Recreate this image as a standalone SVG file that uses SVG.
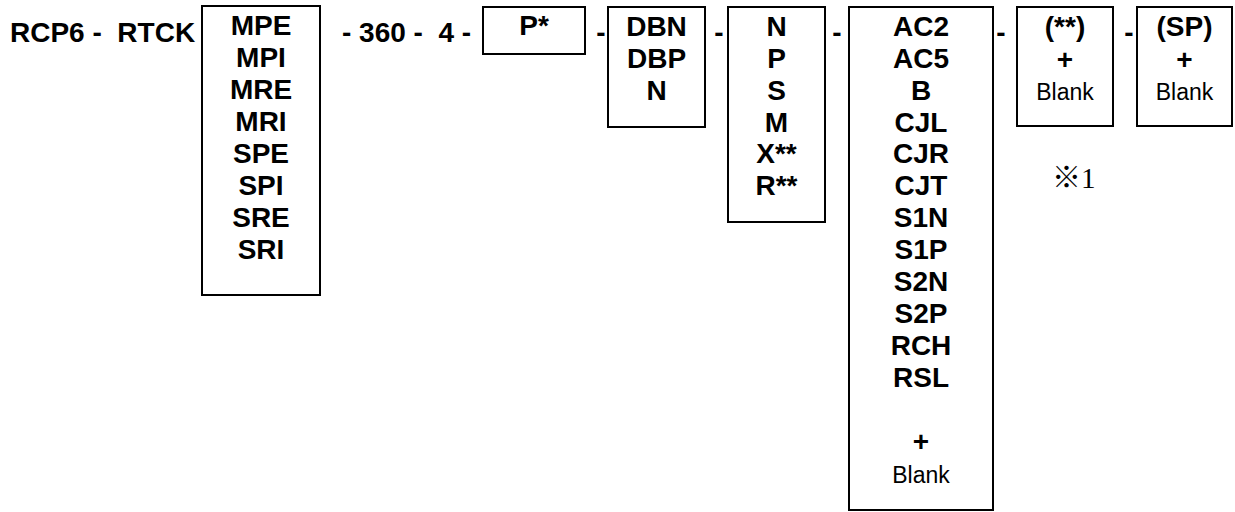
<svg xmlns="http://www.w3.org/2000/svg" width="1235" height="512" viewBox="0 0 1235 512">
<style>
  .bx { fill: #ffffff; stroke: #000000; stroke-width: 2; }
  .b { font-family: "Liberation Sans", Arial, sans-serif; font-weight: bold; font-size: 28px; fill: #000000; }
  .c { text-anchor: middle; }
  .r { font-family: "Liberation Sans", Arial, sans-serif; font-weight: normal; font-size: 23px; fill: #000000; text-anchor: middle; }
  .note { font-family: "Liberation Serif", "Noto Sans CJK JP", serif; font-size: 29px; fill: #000000; }
</style>
<rect width="1235" height="512" fill="#ffffff"/>
<g id="prefix">
  <text class="b" x="10" y="42" xml:space="preserve">RCP6 -  RTCK</text>
</g>
<g id="box-type">
  <rect class="bx" x="202" y="6" width="118" height="289"/>
  <text class="b c" x="261" y="35">MPE</text>
  <text class="b c" x="261" y="67">MPI</text>
  <text class="b c" x="261" y="99">MRE</text>
  <text class="b c" x="261" y="131">MRI</text>
  <text class="b c" x="261" y="163">SPE</text>
  <text class="b c" x="261" y="195">SPI</text>
  <text class="b c" x="261" y="227">SRE</text>
  <text class="b c" x="261" y="259">SRI</text>
</g>
<g id="middle">
  <text class="b" x="342" y="42" xml:space="preserve">- 360 -  4 -</text>
</g>
<g id="box-p">
  <rect class="bx" x="483" y="7" width="102" height="47"/>
  <text class="b c" x="534" y="35">P*</text>
</g>
<g id="box-db">
  <rect class="bx" x="608" y="7" width="97" height="120"/>
  <text class="b c" x="656.5" y="36">DBN</text>
  <text class="b c" x="656.5" y="68">DBP</text>
  <text class="b c" x="656.5" y="100">N</text>
</g>
<g id="box-n">
  <rect class="bx" x="728" y="7" width="97" height="215"/>
  <text class="b c" x="776.5" y="36">N</text>
  <text class="b c" x="776.5" y="68">P</text>
  <text class="b c" x="776.5" y="100">S</text>
  <text class="b c" x="776.5" y="132">M</text>
  <text class="b c" x="776.5" y="163">X**</text>
  <text class="b c" x="776.5" y="195">R**</text>
</g>
<g id="box-ac">
  <rect class="bx" x="849" y="7" width="144" height="503"/>
  <text class="b c" x="921" y="36">AC2</text>
  <text class="b c" x="921" y="68">AC5</text>
  <text class="b c" x="921" y="100">B</text>
  <text class="b c" x="921" y="132">CJL</text>
  <text class="b c" x="921" y="163">CJR</text>
  <text class="b c" x="921" y="195">CJT</text>
  <text class="b c" x="921" y="227">S1N</text>
  <text class="b c" x="921" y="259">S1P</text>
  <text class="b c" x="921" y="291">S2N</text>
  <text class="b c" x="921" y="323">S2P</text>
  <text class="b c" x="921" y="355">RCH</text>
  <text class="b c" x="921" y="387">RSL</text>
  <text class="b c" x="921" y="451">+</text>
  <text class="r" x="921" y="483">Blank</text>
</g>
<g id="box-star">
  <rect class="bx" x="1017" y="7" width="96" height="119"/>
  <text class="b c" x="1065" y="36">(**)</text>
  <text class="b c" x="1065" y="69">+</text>
  <text class="r" x="1065" y="100">Blank</text>
</g>
<g id="box-sp">
  <rect class="bx" x="1137" y="7" width="95" height="119"/>
  <text class="b c" x="1184.5" y="36">(SP)</text>
  <text class="b c" x="1184.5" y="69">+</text>
  <text class="r" x="1184.5" y="100">Blank</text>
</g>
<g id="connectors">
  <text class="b c" x="601" y="42">-</text>
  <text class="b c" x="719" y="42">-</text>
  <text class="b c" x="837" y="42">-</text>
  <text class="b c" x="1001" y="42">-</text>
  <text class="b c" x="1129" y="42">-</text>
</g>
<g id="note">
  <text class="note" x="1052" y="188">※1</text>
</g>
</svg>
